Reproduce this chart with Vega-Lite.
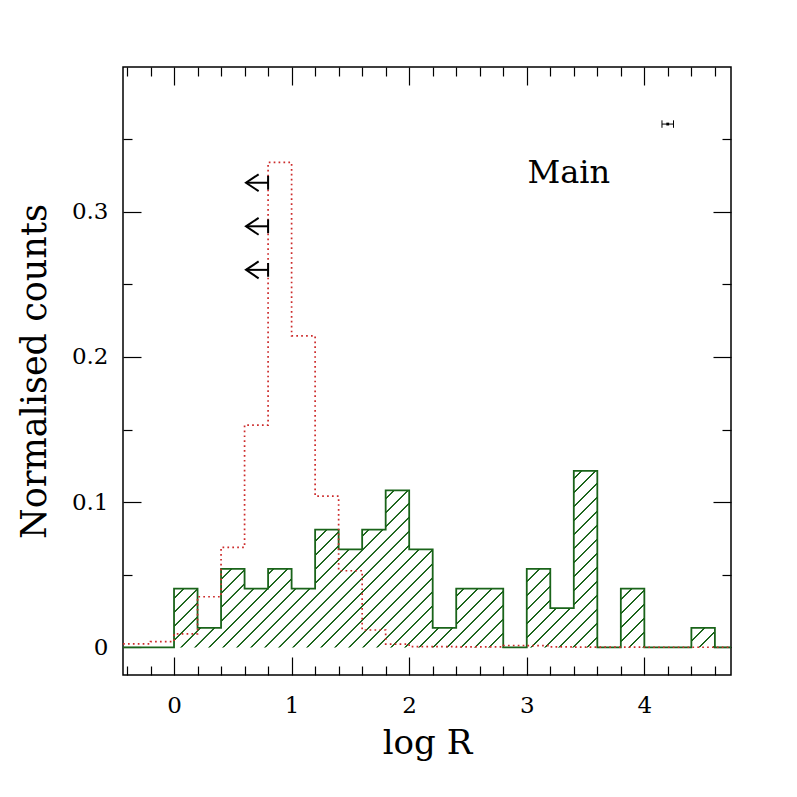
{
  "$schema": "https://vega.github.io/schema/vega-lite/v6.json",
  "width": 608,
  "height": 608,
  "autosize": {"type": "none"},
  "padding": {"left": 123, "top": 67, "right": 66, "bottom": 122},
  "background": "white",
  "config": {
    "view": {"stroke": "black", "strokeWidth": 1.5},
    "axis": {"domain": false, "grid": false, "labelFont": "DejaVu Serif", "titleFont": "DejaVu Serif", "labelColor": "black", "titleColor": "black", "tickColor": "black", "tickWidth": 1.2, "titleFontWeight": "normal"}
  },
  "datasets": {
    "green": [
      {"x": -0.6, "v": 0}, {"x": 0, "v": 0.040541}, {"x": 0.2, "v": 0.013514}, {"x": 0.4, "v": 0.054054},
      {"x": 0.6, "v": 0.040541}, {"x": 0.8, "v": 0.054054}, {"x": 1.0, "v": 0.040541}, {"x": 1.2, "v": 0.081081},
      {"x": 1.4, "v": 0.067568}, {"x": 1.6, "v": 0.081081}, {"x": 1.8, "v": 0.108108}, {"x": 2.0, "v": 0.067568},
      {"x": 2.2, "v": 0.013514}, {"x": 2.4, "v": 0.040541}, {"x": 2.6, "v": 0.040541}, {"x": 2.8, "v": 0},
      {"x": 3.0, "v": 0.054054}, {"x": 3.2, "v": 0.027027}, {"x": 3.4, "v": 0.121622}, {"x": 3.6, "v": 0},
      {"x": 3.8, "v": 0.040541}, {"x": 4.0, "v": 0}, {"x": 4.2, "v": 0}, {"x": 4.4, "v": 0.013514},
      {"x": 4.6, "v": 0}, {"x": 4.8, "v": 0}
    ],
    "red": [
      {"x": -0.6, "v": 0.0024}, {"x": -0.4, "v": 0.0024}, {"x": -0.2, "v": 0.004}, {"x": 0, "v": 0.0093},
      {"x": 0.2, "v": 0.0349}, {"x": 0.4, "v": 0.0689}, {"x": 0.6, "v": 0.1531}, {"x": 0.8, "v": 0.334},
      {"x": 1.0, "v": 0.2146}, {"x": 1.2, "v": 0.1042}, {"x": 1.4, "v": 0.0528}, {"x": 1.6, "v": 0.012},
      {"x": 1.8, "v": 0.0023}, {"x": 2.0, "v": 0.0005}, {"x": 2.2, "v": 0.0005}, {"x": 2.4, "v": 0.0003},
      {"x": 2.6, "v": 0.0003}, {"x": 2.8, "v": 0.0013}, {"x": 3.0, "v": 0.0012}, {"x": 3.2, "v": 0.0003},
      {"x": 3.4, "v": 0.0002}, {"x": 3.6, "v": 0.0002}, {"x": 3.8, "v": 0.0002}, {"x": 4.0, "v": 0.0001},
      {"x": 4.2, "v": 0.0001}, {"x": 4.4, "v": 0.0001}, {"x": 4.6, "v": 0.0001}, {"x": 4.8, "v": 0.0001}
    ],
    "limits": [
      {"lim": 0.8, "tip": 0.612, "y": 0.32},
      {"lim": 0.8, "tip": 0.612, "y": 0.29},
      {"lim": 0.8, "tip": 0.612, "y": 0.26}
    ],
    "errbar": [{"x": 4.199, "lo": 4.15, "hi": 4.248, "y": 0.3604}],
    "label": [{"x": 3.358, "y": 0.3196, "text": "Main"}]
  },
  "layer": [
    {
      "data": {"name": "green"},
      "transform": [{"filter": "datum.x >= 0 && datum.x <= 4.6"}],
      "mark": {
        "type": "area", "interpolate": "step-after", "opacity": 1,
        "fill": {
          "gradient": "linear", "x1": 0, "y1": 0, "x2": 1.19872, "y2": 0.39144,
          "stops": [
            {"offset": 0.0001, "color": "white"}, {"offset": 0.0015, "color": "#1a641a"}, {"offset": 0.0029, "color": "#1a641a"}, {"offset": 0.0043, "color": "white"},
            {"offset": 0.0197, "color": "white"}, {"offset": 0.0210, "color": "#1a641a"}, {"offset": 0.0224, "color": "#1a641a"}, {"offset": 0.0238, "color": "white"},
            {"offset": 0.0392, "color": "white"}, {"offset": 0.0406, "color": "#1a641a"}, {"offset": 0.0420, "color": "#1a641a"}, {"offset": 0.0434, "color": "white"},
            {"offset": 0.0587, "color": "white"}, {"offset": 0.0601, "color": "#1a641a"}, {"offset": 0.0615, "color": "#1a641a"}, {"offset": 0.0629, "color": "white"},
            {"offset": 0.0782, "color": "white"}, {"offset": 0.0796, "color": "#1a641a"}, {"offset": 0.0810, "color": "#1a641a"}, {"offset": 0.0824, "color": "white"},
            {"offset": 0.0977, "color": "white"}, {"offset": 0.0991, "color": "#1a641a"}, {"offset": 0.1005, "color": "#1a641a"}, {"offset": 0.1019, "color": "white"},
            {"offset": 0.1172, "color": "white"}, {"offset": 0.1186, "color": "#1a641a"}, {"offset": 0.1200, "color": "#1a641a"}, {"offset": 0.1214, "color": "white"},
            {"offset": 0.1367, "color": "white"}, {"offset": 0.1381, "color": "#1a641a"}, {"offset": 0.1395, "color": "#1a641a"}, {"offset": 0.1409, "color": "white"},
            {"offset": 0.1563, "color": "white"}, {"offset": 0.1577, "color": "#1a641a"}, {"offset": 0.1590, "color": "#1a641a"}, {"offset": 0.1604, "color": "white"},
            {"offset": 0.1758, "color": "white"}, {"offset": 0.1772, "color": "#1a641a"}, {"offset": 0.1786, "color": "#1a641a"}, {"offset": 0.1800, "color": "white"},
            {"offset": 0.1953, "color": "white"}, {"offset": 0.1967, "color": "#1a641a"}, {"offset": 0.1981, "color": "#1a641a"}, {"offset": 0.1995, "color": "white"},
            {"offset": 0.2148, "color": "white"}, {"offset": 0.2162, "color": "#1a641a"}, {"offset": 0.2176, "color": "#1a641a"}, {"offset": 0.2190, "color": "white"},
            {"offset": 0.2343, "color": "white"}, {"offset": 0.2357, "color": "#1a641a"}, {"offset": 0.2371, "color": "#1a641a"}, {"offset": 0.2385, "color": "white"},
            {"offset": 0.2538, "color": "white"}, {"offset": 0.2552, "color": "#1a641a"}, {"offset": 0.2566, "color": "#1a641a"}, {"offset": 0.2580, "color": "white"},
            {"offset": 0.2733, "color": "white"}, {"offset": 0.2747, "color": "#1a641a"}, {"offset": 0.2761, "color": "#1a641a"}, {"offset": 0.2775, "color": "white"},
            {"offset": 0.2929, "color": "white"}, {"offset": 0.2943, "color": "#1a641a"}, {"offset": 0.2957, "color": "#1a641a"}, {"offset": 0.2970, "color": "white"},
            {"offset": 0.3124, "color": "white"}, {"offset": 0.3138, "color": "#1a641a"}, {"offset": 0.3152, "color": "#1a641a"}, {"offset": 0.3166, "color": "white"},
            {"offset": 0.3319, "color": "white"}, {"offset": 0.3333, "color": "#1a641a"}, {"offset": 0.3347, "color": "#1a641a"}, {"offset": 0.3361, "color": "white"},
            {"offset": 0.3514, "color": "white"}, {"offset": 0.3528, "color": "#1a641a"}, {"offset": 0.3542, "color": "#1a641a"}, {"offset": 0.3556, "color": "white"},
            {"offset": 0.3709, "color": "white"}, {"offset": 0.3723, "color": "#1a641a"}, {"offset": 0.3737, "color": "#1a641a"}, {"offset": 0.3751, "color": "white"},
            {"offset": 0.3904, "color": "white"}, {"offset": 0.3918, "color": "#1a641a"}, {"offset": 0.3932, "color": "#1a641a"}, {"offset": 0.3946, "color": "white"},
            {"offset": 0.4099, "color": "white"}, {"offset": 0.4113, "color": "#1a641a"}, {"offset": 0.4127, "color": "#1a641a"}, {"offset": 0.4141, "color": "white"},
            {"offset": 0.4295, "color": "white"}, {"offset": 0.4309, "color": "#1a641a"}, {"offset": 0.4323, "color": "#1a641a"}, {"offset": 0.4336, "color": "white"},
            {"offset": 0.4490, "color": "white"}, {"offset": 0.4504, "color": "#1a641a"}, {"offset": 0.4518, "color": "#1a641a"}, {"offset": 0.4532, "color": "white"},
            {"offset": 0.4685, "color": "white"}, {"offset": 0.4699, "color": "#1a641a"}, {"offset": 0.4713, "color": "#1a641a"}, {"offset": 0.4727, "color": "white"},
            {"offset": 0.4880, "color": "white"}, {"offset": 0.4894, "color": "#1a641a"}, {"offset": 0.4908, "color": "#1a641a"}, {"offset": 0.4922, "color": "white"},
            {"offset": 0.5075, "color": "white"}, {"offset": 0.5089, "color": "#1a641a"}, {"offset": 0.5103, "color": "#1a641a"}, {"offset": 0.5117, "color": "white"},
            {"offset": 0.5270, "color": "white"}, {"offset": 0.5284, "color": "#1a641a"}, {"offset": 0.5298, "color": "#1a641a"}, {"offset": 0.5312, "color": "white"},
            {"offset": 0.5466, "color": "white"}, {"offset": 0.5479, "color": "#1a641a"}, {"offset": 0.5493, "color": "#1a641a"}, {"offset": 0.5507, "color": "white"},
            {"offset": 0.5661, "color": "white"}, {"offset": 0.5675, "color": "#1a641a"}, {"offset": 0.5689, "color": "#1a641a"}, {"offset": 0.5703, "color": "white"},
            {"offset": 0.5856, "color": "white"}, {"offset": 0.5870, "color": "#1a641a"}, {"offset": 0.5884, "color": "#1a641a"}, {"offset": 0.5898, "color": "white"},
            {"offset": 0.6051, "color": "white"}, {"offset": 0.6065, "color": "#1a641a"}, {"offset": 0.6079, "color": "#1a641a"}, {"offset": 0.6093, "color": "white"},
            {"offset": 0.6246, "color": "white"}, {"offset": 0.6260, "color": "#1a641a"}, {"offset": 0.6274, "color": "#1a641a"}, {"offset": 0.6288, "color": "white"},
            {"offset": 0.6441, "color": "white"}, {"offset": 0.6455, "color": "#1a641a"}, {"offset": 0.6469, "color": "#1a641a"}, {"offset": 0.6483, "color": "white"},
            {"offset": 0.6636, "color": "white"}, {"offset": 0.6650, "color": "#1a641a"}, {"offset": 0.6664, "color": "#1a641a"}, {"offset": 0.6678, "color": "white"},
            {"offset": 0.6832, "color": "white"}, {"offset": 0.6846, "color": "#1a641a"}, {"offset": 0.6859, "color": "#1a641a"}, {"offset": 0.6873, "color": "white"},
            {"offset": 0.7027, "color": "white"}, {"offset": 0.7041, "color": "#1a641a"}, {"offset": 0.7055, "color": "#1a641a"}, {"offset": 0.7069, "color": "white"},
            {"offset": 0.7222, "color": "white"}, {"offset": 0.7236, "color": "#1a641a"}, {"offset": 0.7250, "color": "#1a641a"}, {"offset": 0.7264, "color": "white"},
            {"offset": 0.7417, "color": "white"}, {"offset": 0.7431, "color": "#1a641a"}, {"offset": 0.7445, "color": "#1a641a"}, {"offset": 0.7459, "color": "white"},
            {"offset": 0.7612, "color": "white"}, {"offset": 0.7626, "color": "#1a641a"}, {"offset": 0.7640, "color": "#1a641a"}, {"offset": 0.7654, "color": "white"},
            {"offset": 0.7807, "color": "white"}, {"offset": 0.7821, "color": "#1a641a"}, {"offset": 0.7835, "color": "#1a641a"}, {"offset": 0.7849, "color": "white"},
            {"offset": 0.8002, "color": "white"}, {"offset": 0.8016, "color": "#1a641a"}, {"offset": 0.8030, "color": "#1a641a"}, {"offset": 0.8044, "color": "white"},
            {"offset": 0.8198, "color": "white"}, {"offset": 0.8212, "color": "#1a641a"}, {"offset": 0.8226, "color": "#1a641a"}, {"offset": 0.8239, "color": "white"},
            {"offset": 0.8393, "color": "white"}, {"offset": 0.8407, "color": "#1a641a"}, {"offset": 0.8421, "color": "#1a641a"}, {"offset": 0.8435, "color": "white"},
            {"offset": 0.8588, "color": "white"}, {"offset": 0.8602, "color": "#1a641a"}, {"offset": 0.8616, "color": "#1a641a"}, {"offset": 0.8630, "color": "white"},
            {"offset": 0.8783, "color": "white"}, {"offset": 0.8797, "color": "#1a641a"}, {"offset": 0.8811, "color": "#1a641a"}, {"offset": 0.8825, "color": "white"},
            {"offset": 0.8978, "color": "white"}, {"offset": 0.8992, "color": "#1a641a"}, {"offset": 0.9006, "color": "#1a641a"}, {"offset": 0.9020, "color": "white"},
            {"offset": 0.9173, "color": "white"}, {"offset": 0.9187, "color": "#1a641a"}, {"offset": 0.9201, "color": "#1a641a"}, {"offset": 0.9215, "color": "white"},
            {"offset": 0.9369, "color": "white"}, {"offset": 0.9382, "color": "#1a641a"}, {"offset": 0.9396, "color": "#1a641a"}, {"offset": 0.9410, "color": "white"},
            {"offset": 0.9564, "color": "white"}, {"offset": 0.9578, "color": "#1a641a"}, {"offset": 0.9592, "color": "#1a641a"}, {"offset": 0.9606, "color": "white"},
            {"offset": 0.9759, "color": "white"}, {"offset": 0.9773, "color": "#1a641a"}, {"offset": 0.9787, "color": "#1a641a"}, {"offset": 0.9801, "color": "white"},
            {"offset": 0.9954, "color": "white"}, {"offset": 0.9968, "color": "#1a641a"}, {"offset": 0.9982, "color": "#1a641a"}, {"offset": 0.9996, "color": "white"}
          ]
        }
      },
      "encoding": {
        "x": {"field": "x", "type": "quantitative", "scale": {"domain": [-0.434, 4.737], "nice": false, "zero": false},
          "axis": {"orient": "bottom", "values": [0, 1, 2, 3, 4], "format": "d", "ticks": false, "labelFontSize": 23, "labelPadding": 19, "title": "log R", "titleFontSize": 34, "titleY": 78, "titleBaseline": "alphabetic"}},
        "y": {"field": "v", "type": "quantitative", "scale": {"domain": [-0.019, 0.3997], "nice": false, "zero": false},
          "axis": {"orient": "left", "values": [0, 0.1, 0.2, 0.3], "format": ".1~f", "ticks": false, "labelFontSize": 23, "labelPadding": 15, "title": "Normalised counts", "titleFontSize": 35, "titleX": -78, "titleBaseline": "alphabetic"}},
        "y2": {"datum": 0}
      }
    },
    {
      "data": {"name": "green"},
      "mark": {"type": "line", "interpolate": "step-after", "color": "#1a641a", "strokeWidth": 1.8, "clip": true},
      "encoding": {
        "x": {"field": "x", "type": "quantitative", "scale": {"domain": [-0.434, 4.737], "nice": false, "zero": false},
          "axis": {"orient": "bottom", "values": [0, 1, 2, 3, 4], "tickSize": -18, "labels": false, "title": null}},
        "y": {"field": "v", "type": "quantitative", "scale": {"domain": [-0.019, 0.3997], "nice": false, "zero": false},
          "axis": {"orient": "left", "values": [0, 0.1, 0.2, 0.3], "tickSize": -18, "labels": false, "title": null}}
      }
    },
    {
      "data": {"name": "red"},
      "mark": {"type": "line", "interpolate": "step-after", "color": "#cc2a2a", "strokeWidth": 1.7, "strokeDash": [1.7, 3.2], "clip": true},
      "encoding": {
        "x": {"field": "x", "type": "quantitative", "scale": {"domain": [-0.434, 4.737], "nice": false, "zero": false},
          "axis": {"orient": "bottom", "values": [-0.4, -0.2, 0.2, 0.4, 0.6, 0.8, 1.2, 1.4, 1.6, 1.8, 2.2, 2.4, 2.6, 2.8, 3.2, 3.4, 3.6, 3.8, 4.2, 4.4, 4.6], "tickSize": -9, "labels": false, "title": null}},
        "y": {"field": "v", "type": "quantitative", "scale": {"domain": [-0.019, 0.3997], "nice": false, "zero": false},
          "axis": {"orient": "left", "values": [0.05, 0.15, 0.25, 0.35], "tickSize": -9, "labels": false, "title": null}}
      }
    },
    {
      "data": {"name": "limits"},
      "mark": {"type": "rule", "color": "black", "strokeWidth": 2},
      "encoding": {
        "x": {"field": "tip", "type": "quantitative", "scale": {"domain": [-0.434, 4.737], "nice": false, "zero": false},
          "axis": {"orient": "top", "values": [0, 1, 2, 3, 4], "tickSize": -18, "labels": false, "title": null}},
        "x2": {"field": "lim"},
        "y": {"field": "y", "type": "quantitative", "scale": {"domain": [-0.019, 0.3997], "nice": false, "zero": false},
          "axis": {"orient": "right", "values": [0, 0.1, 0.2, 0.3], "tickSize": -18, "labels": false, "title": null}}
      }
    },
    {
      "data": {"name": "limits"},
      "mark": {"type": "point", "shape": "M 1 -0.667 L 0 0 L 1 0.667", "size": 640, "filled": false, "color": "black", "strokeWidth": 2, "opacity": 1},
      "encoding": {
        "x": {"field": "tip", "type": "quantitative", "scale": {"domain": [-0.434, 4.737], "nice": false, "zero": false},
          "axis": {"orient": "top", "values": [-0.4, -0.2, 0.2, 0.4, 0.6, 0.8, 1.2, 1.4, 1.6, 1.8, 2.2, 2.4, 2.6, 2.8, 3.2, 3.4, 3.6, 3.8, 4.2, 4.4, 4.6], "tickSize": -9, "labels": false, "title": null}},
        "y": {"field": "y", "type": "quantitative", "scale": {"domain": [-0.019, 0.3997], "nice": false, "zero": false},
          "axis": {"orient": "right", "values": [0.05, 0.15, 0.25, 0.35], "tickSize": -9, "labels": false, "title": null}}
      }
    },
    {
      "data": {"name": "limits"},
      "mark": {"type": "point", "shape": "M 0 -1 L 0 1", "size": 190, "filled": false, "color": "black", "strokeWidth": 2, "opacity": 1},
      "encoding": {
        "x": {"field": "lim", "type": "quantitative", "axis": null},
        "y": {"field": "y", "type": "quantitative", "axis": null}
      }
    },
    {
      "data": {"name": "errbar"},
      "mark": {"type": "rule", "color": "black", "strokeWidth": 1},
      "encoding": {
        "x": {"field": "lo", "type": "quantitative", "axis": null},
        "x2": {"field": "hi"},
        "y": {"field": "y", "type": "quantitative", "axis": null}
      }
    },
    {
      "data": {"name": "errbar"},
      "mark": {"type": "point", "shape": "M 0 -1 L 0 1", "size": 56, "filled": false, "color": "black", "strokeWidth": 1, "opacity": 1},
      "encoding": {
        "x": {"field": "lo", "type": "quantitative", "axis": null},
        "y": {"field": "y", "type": "quantitative", "axis": null}
      }
    },
    {
      "data": {"name": "errbar"},
      "mark": {"type": "point", "shape": "M 0 -1 L 0 1", "size": 56, "filled": false, "color": "black", "strokeWidth": 1, "opacity": 1},
      "encoding": {
        "x": {"field": "hi", "type": "quantitative", "axis": null},
        "y": {"field": "y", "type": "quantitative", "axis": null}
      }
    },
    {
      "data": {"name": "errbar"},
      "mark": {"type": "point", "shape": "square", "size": 8, "filled": true, "color": "black", "opacity": 1},
      "encoding": {
        "x": {"field": "x", "type": "quantitative", "axis": null},
        "y": {"field": "y", "type": "quantitative", "axis": null}
      }
    },
    {
      "data": {"name": "label"},
      "mark": {"type": "text", "font": "DejaVu Serif", "fontSize": 32, "align": "center", "baseline": "alphabetic", "color": "black"},
      "encoding": {
        "x": {"field": "x", "type": "quantitative", "axis": null},
        "y": {"field": "y", "type": "quantitative", "axis": null},
        "text": {"field": "text"}
      }
    }
  ],
  "resolve": {"axis": {"x": "independent", "y": "independent"}}
}
